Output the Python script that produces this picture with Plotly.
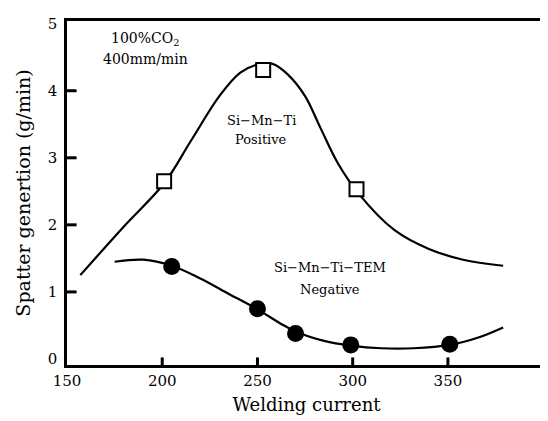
import plotly.graph_objects as go

# measured points
pos_x = [201, 253, 302]
pos_y = [2.65, 4.31, 2.53]
neg_x = [205, 250, 270, 299, 351]
neg_y = [1.38, 0.75, 0.38, 0.21, 0.22]

# fitted curves
pos_curve_x = [157, 180, 201, 215, 230, 241, 251, 258, 266, 275, 283, 292, 303, 322, 340, 358, 379]
pos_curve_y = [1.25, 1.98, 2.62, 3.25, 3.92, 4.27, 4.40, 4.40, 4.24, 3.92, 3.45, 2.93, 2.47, 1.92, 1.64, 1.48, 1.39]
neg_curve_x = [175, 190, 205, 220, 235, 250, 262, 270, 285, 299, 315, 332, 351, 366, 379]
neg_curve_y = [1.45, 1.48, 1.39, 1.20, 0.97, 0.74, 0.53, 0.41, 0.27, 0.20, 0.16, 0.16, 0.21, 0.32, 0.47]

x_ticks = [150, 200, 250, 300, 350, 400]
x_marks = [200, 250, 300, 350]
y_ticks = [0, 1, 2, 3, 4, 5]
y_marks = [1, 2, 3, 4]

FONT = "DejaVu Serif"
x_range = [150, 401.5]
y_range = [-0.09, 5.04]

fig = go.Figure()

# inward tick marks only at the inner values, built from the tick lists
x_len = 0.02 * (x_range[1] - x_range[0])
y_len = 0.022 * (y_range[1] - y_range[0])
tick_x, tick_y = [], []
for v in x_marks:
    tick_x += [v, v, None]
    tick_y += [y_range[0], y_range[0] + y_len, None]
for v in y_marks:
    tick_x += [x_range[0], x_range[0] + x_len, None]
    tick_y += [v, v, None]
fig.add_trace(go.Scatter(x=tick_x, y=tick_y, mode="lines", cliponaxis=False,
                         line=dict(color="black", width=3), hoverinfo="skip"))

fig.add_trace(go.Scatter(x=pos_curve_x, y=pos_curve_y, mode="lines",
                         line=dict(color="black", width=2.2, shape="spline", smoothing=1.0),
                         hoverinfo="skip"))
fig.add_trace(go.Scatter(x=neg_curve_x, y=neg_curve_y, mode="lines",
                         line=dict(color="black", width=2.2, shape="spline", smoothing=1.0),
                         hoverinfo="skip"))
fig.add_trace(go.Scatter(x=pos_x, y=pos_y, mode="markers",
                         marker=dict(symbol="square", size=14, color="white",
                                     line=dict(color="black", width=2))))
fig.add_trace(go.Scatter(x=neg_x, y=neg_y, mode="markers",
                         marker=dict(symbol="circle", size=17, color="black")))

annots = [
    (191, 4.77, "100%CO<sub>2</sub>", 14),
    (191, 4.47, "400mm/min", 14),
    (252, 3.56, "Si−Mn−Ti", 13),
    (252, 3.28, "Positive", 13),
    (288, 1.36, "Si−Mn−Ti−TEM", 13),
    (288, 1.04, "Negative", 13),
]
for ax_x, ax_y, txt, sz in annots:
    fig.add_annotation(x=ax_x, y=ax_y, text=txt, showarrow=False,
                       font=dict(family=FONT, size=sz, color="black"))

fig.update_layout(
    width=548, height=421,
    margin=dict(l=59, r=10, t=7, b=64),
    plot_bgcolor="white", paper_bgcolor="white",
    showlegend=False,
    font=dict(family=FONT, color="black"),
    xaxis=dict(range=x_range, tickmode="array", tickvals=x_ticks, ticks="",
               showgrid=False, zeroline=False, showline=True, linecolor="black",
               linewidth=2.5, mirror=True, tickfont=dict(size=15),
               title=dict(text="Welding current", font=dict(size=18), standoff=10)),
    yaxis=dict(range=y_range, tickmode="array", tickvals=y_ticks, ticks="",
               showgrid=False, zeroline=False, showline=True, linecolor="black",
               linewidth=2.5, mirror=True, tickfont=dict(size=15), ticklabelstandoff=4,
               title=dict(text="Spatter genertion (g/min)", font=dict(size=19), standoff=13)),
)

fig.write_html("out.html")
